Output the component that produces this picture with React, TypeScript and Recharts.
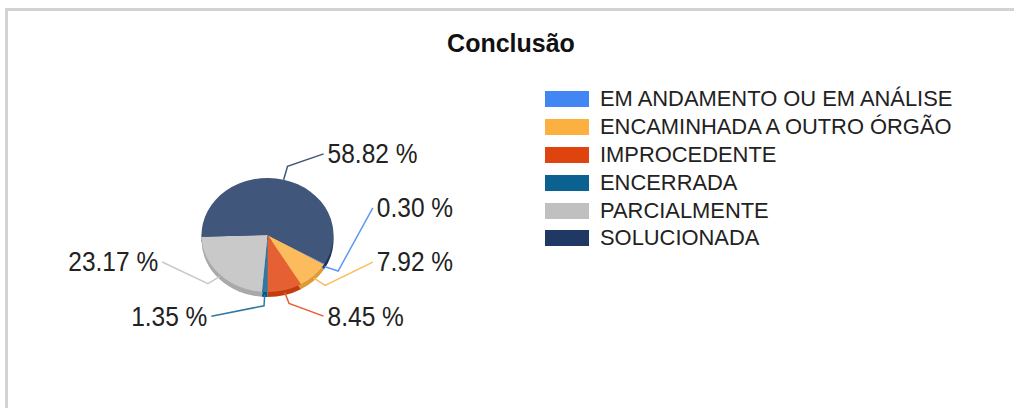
import React from 'react';
import { PieChart, Pie, Cell, Legend } from 'recharts';

const categories = [
  'EM ANDAMENTO OU EM ANÁLISE',
  'ENCAMINHADA A OUTRO ÓRGÃO',
  'IMPROCEDENTE',
  'ENCERRADA',
  'PARCIALMENTE',
  'SOLUCIONADA',
];
const percentages = [0.3, 7.92, 8.45, 1.35, 23.17, 58.82];
const colors = ['#4286f4', '#fbb040', '#e0440e', '#0b6190', '#c0c0c0', '#1f3864'];

const data = categories.map((name, i) => ({ name, value: percentages[i] }));

const W = 1014;
const H = 408;
const CX = 267.5;
const CY = 235;
const R = 66;
const TILT = 0.864; // vertical squash of the pie
const DEPTH = 5; // thickness of the 3d rim
const START = -30;
const FONT = "'Liberation Sans', Arial, Helvetica, sans-serif";
const RAD = Math.PI / 180;

// label rows: 4 per side, text placed on an ellipse around the pie
const ROW = 54.1;
const LA = 114;
const LB = 95.5;
const ELBOW = 16;

function shade(hex: string, k: number) {
  const n = parseInt(hex.slice(1), 16);
  const ch = [(n >> 16) & 255, (n >> 8) & 255, n & 255].map((c) =>
    Math.round(k >= 0 ? c + (255 - c) * k : c * (1 + k))
  );
  return `rgb(${ch.join(',')})`;
}

function onEllipse(r: number, angle: number) {
  return { x: CX + r * Math.cos(angle * RAD), y: CY - r * TILT * Math.sin(angle * RAD) };
}

const total = percentages.reduce((a, b) => a + b, 0);
const midAngles = (() => {
  let acc = START;
  return percentages.map((v) => {
    const span = (v / total) * 360;
    const m = acc - span / 2;
    acc -= span;
    return m;
  });
})();

// pick the nearest free row for every label, bottom-up on each side
const labelSlots = (() => {
  const rows = [0, 1, 2, 3].map((k) => CY + (k - 1.5) * ROW);
  const out: { y: number; side: number }[] = [];
  [1, -1].forEach((side) => {
    const used = new Set<number>();
    midAngles
      .map((m, i) => ({ i, side: Math.cos(m * RAD) >= 0 ? 1 : -1, y: onEllipse(R + ELBOW, m).y }))
      .filter((p) => p.side === side)
      .sort((a, b) => b.y - a.y)
      .forEach((p) => {
        let best = -1;
        rows.forEach((s, k) => {
          if (used.has(k)) return;
          if (best < 0 || Math.abs(s - p.y) < Math.abs(rows[best] - p.y)) best = k;
        });
        used.add(best);
        out[p.i] = { y: rows[best], side };
      });
  });
  return out;
})();

const renderLabel = (props: any) => {
  const { midAngle, index, value } = props;
  const slot = labelSlots[index];
  const a = onEllipse(R, midAngle);
  const lower = Math.sin(midAngle * RAD) < 0;
  const e = onEllipse(R + ELBOW, midAngle);
  const dy = slot.y - CY;
  const tx = CX + slot.side * LA * Math.sqrt(Math.max(0, 1 - (dy / LB) ** 2));
  const lx = tx - slot.side * 4;
  return (
    <g key={`label-${index}`}>
      <polyline
        points={`${a.x},${a.y + (lower ? DEPTH / 2 : 0)} ${e.x},${e.y} ${lx},${slot.y}`}
        fill="none"
        stroke={shade(colors[index], 0.15)}
        strokeWidth={1.5}
      />
      <text
        x={0}
        y={0}
        transform={`translate(${tx},${slot.y}) scale(1,1.1)`}
        textAnchor={slot.side > 0 ? 'start' : 'end'}
        dominantBaseline="central"
        fontSize={24.5}
        fontFamily={FONT}
        fill="#222"
      >
        {`${Number(value).toFixed(2)} %`}
      </text>
    </g>
  );
};

const renderLegend = () => (
  <div style={{ fontFamily: FONT }}>
    {categories.map((name, i) => (
      <div key={name} style={{ display: 'flex', alignItems: 'center', height: 27.9 }}>
        <span style={{ width: 44, height: 16, background: colors[i], marginRight: 11, flex: 'none' }} />
        <span style={{ fontSize: 21.9, color: '#222', whiteSpace: 'nowrap' }}>{name}</span>
      </div>
    ))}
  </div>
);

export default function App() {
  return (
    <div style={{ position: 'absolute', left: 0, top: 0, width: W, height: H, overflow: 'hidden', background: '#fff' }}>
      <style>{`.pie3d path.recharts-sector { transform-origin: ${CX}px ${CY}px; transform: scaleY(${TILT}); }`}</style>
      <div
        style={{
          position: 'absolute',
          left: 5,
          top: 8,
          width: W,
          height: H,
          borderTop: '3px solid #d3d3d3',
          borderLeft: '3px solid #d3d3d3',
        }}
      />
      <div
        style={{
          position: 'absolute',
          left: 8,
          width: W - 8,
          top: 30.5,
          textAlign: 'center',
          fontFamily: FONT,
          fontWeight: 'bold',
          fontSize: 25,
          lineHeight: '25px',
          color: '#111',
        }}
      >
        Conclusão
      </div>
      <PieChart
        className="pie3d"
        width={W}
        height={H}
        margin={{ top: 0, right: 0, bottom: 0, left: 0 }}
        style={{ position: 'absolute', left: 0, top: 0 }}
      >
        {/* rim: same pie, darker, shifted down */}
        <Pie
          data={data}
          dataKey="value"
          nameKey="name"
          cx={CX}
          cy={CY + DEPTH / TILT}
          outerRadius={R}
          startAngle={START}
          endAngle={START - 360}
          stroke="none"
          legendType="none"
          label={false}
          labelLine={false}
          isAnimationActive={false}
        >
          {data.map((d, i) => (
            <Cell key={`rim-${d.name}`} fill={shade(colors[i], -0.12)} />
          ))}
        </Pie>
        <Pie
          data={data}
          dataKey="value"
          nameKey="name"
          cx={CX}
          cy={CY}
          outerRadius={R}
          startAngle={START}
          endAngle={START - 360}
          stroke="none"
          label={renderLabel}
          labelLine={false}
          isAnimationActive={false}
        >
          {data.map((d, i) => (
            <Cell key={`top-${d.name}`} fill={shade(colors[i], 0.15)} />
          ))}
        </Pie>
        <Legend
          content={renderLegend}
          wrapperStyle={{ position: 'absolute', left: 545, top: 85, width: 440, height: 'auto' }}
        />
      </PieChart>
    </div>
  );
}
